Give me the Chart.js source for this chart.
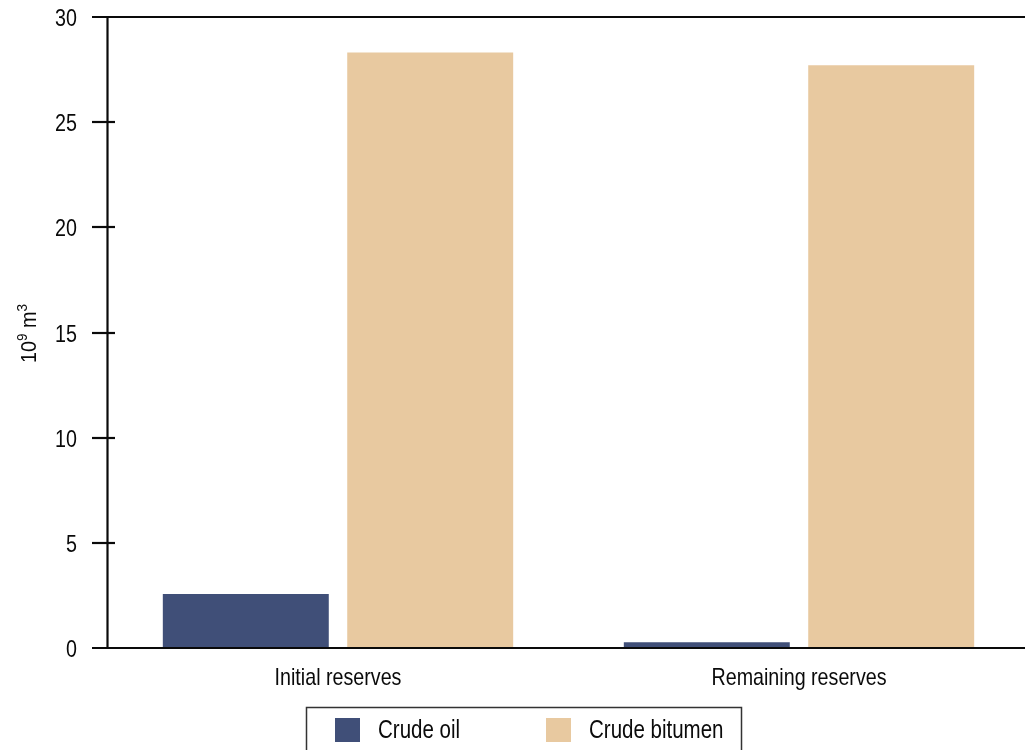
<!DOCTYPE html>
<html>
<head>
<meta charset="utf-8">
<script src="https://cdn.jsdelivr.net/npm/chart.js@4.4.1/dist/chart.umd.min.js"></script>
<style>
  html, body { margin: 0; padding: 0; background: #ffffff; overflow: hidden; }
  #wrap { position: relative; width: 1035px; height: 750px; }
</style>
</head>
<body>
<div id="wrap"><canvas id="c" width="1035" height="750"></canvas></div>
<script>
// Reserves by category, in 10^9 m3
const categories = ['Initial reserves', 'Remaining reserves'];
const crudeOil = [2.57, 0.27];
const crudeBitumen = [28.31, 27.71];
const yTickValues = [0, 5, 10, 15, 20, 25, 30];
const seriesNames = ['Crude oil', 'Crude bitumen'];
const seriesColors = ['#404f78', '#e8c9a0'];

const FONT = '"Liberation Sans", Arial, sans-serif';
const NARROW = 0.82; // horizontal condensing of all text
const INK = '#0a0a0a';

// Draws condensed text with the given alignment at (x, y)
function narrowText(ctx, text, x, y, size, align) {
  ctx.save();
  ctx.font = size + 'px ' + FONT;
  ctx.textAlign = align || 'left';
  ctx.textBaseline = 'alphabetic';
  ctx.translate(x, y);
  ctx.scale(NARROW, 1);
  ctx.fillText(text, 0, 0);
  ctx.restore();
}

// Axis frame: y axis line, crossing tick marks, full-width lines at 0 and 30
const framePlugin = {
  id: 'frame',
  afterDatasetsDraw(chart) {
    const { ctx, chartArea, scales } = chart;
    const y = scales.y;
    const axisX = chartArea.left;
    ctx.save();
    ctx.strokeStyle = INK;
    ctx.lineWidth = 2.2;
    ctx.beginPath();
    ctx.moveTo(axisX, y.getPixelForValue(30));
    ctx.lineTo(axisX, y.getPixelForValue(0));
    ctx.stroke();
    yTickValues.forEach(v => {
      const py = Math.round(y.getPixelForValue(v));
      ctx.beginPath();
      ctx.moveTo(axisX - 15.5, py);
      ctx.lineTo((v === 0 || v === 30) ? chart.width : axisX + 7.5, py);
      ctx.stroke();
    });
    ctx.restore();
  }
};

// Tick labels on both axes, placed from the library's scales
const labelsPlugin = {
  id: 'axisLabels',
  afterDraw(chart) {
    const { ctx, scales } = chart;
    ctx.save();
    ctx.fillStyle = INK;
    yTickValues.forEach(v => {
      narrowText(ctx, String(v), 77, scales.y.getPixelForValue(v) + 9, 24, 'right');
    });
    categories.forEach((c, i) => {
      narrowText(ctx, c, scales.x.getPixelForValue(i), 685, 24, 'center');
    });
    ctx.restore();
  }
};

// Rotated y-axis title with superscripts: 10^9 m^3
const yTitlePlugin = {
  id: 'yTitle',
  afterDraw(chart) {
    const { ctx, chartArea } = chart;
    const cy = (chartArea.top + chartArea.bottom) / 2;
    const parts = [
      { t: '10', size: 22, raise: 0 },
      { t: '9', size: 15, raise: 9 },
      { t: ' m', size: 22, raise: 0 },
      { t: '3', size: 15, raise: 9 }
    ];
    ctx.save();
    ctx.fillStyle = INK;
    ctx.textBaseline = 'alphabetic';
    ctx.textAlign = 'left';
    let total = 0;
    parts.forEach(p => { ctx.font = p.size + 'px ' + FONT; p.w = ctx.measureText(p.t).width; total += p.w; });
    ctx.translate(36, cy + 1);
    ctx.rotate(-Math.PI / 2);
    ctx.scale(0.9, 1);
    let x = -total / 2;
    parts.forEach(p => {
      ctx.font = p.size + 'px ' + FONT;
      ctx.fillText(p.t, x, -p.raise);
      x += p.w;
    });
    ctx.restore();
  }
};

// Boxed legend below the axis, built from the datasets
const legendBoxPlugin = {
  id: 'legendBox',
  afterDraw(chart) {
    const { ctx } = chart;
    ctx.save();
    ctx.strokeStyle = '#333';
    ctx.lineWidth = 1.5;
    ctx.strokeRect(306.5, 707.5, 435, 60);
    const items = [{ sx: 335, tx: 378 }, { sx: 546, tx: 589 }];
    chart.data.datasets.forEach((ds, i) => {
      const it = items[i];
      ctx.fillStyle = ds.backgroundColor;
      ctx.fillRect(it.sx, 718, 25, 24);
      ctx.fillStyle = INK;
      narrowText(ctx, ds.label, it.tx, 738, 25, 'left');
    });
    ctx.restore();
  }
};

new Chart(document.getElementById('c'), {
  type: 'bar',
  data: {
    labels: categories,
    datasets: [
      { label: seriesNames[0], data: crudeOil, backgroundColor: seriesColors[0] },
      { label: seriesNames[1], data: crudeBitumen, backgroundColor: seriesColors[1] }
    ]
  },
  options: {
    responsive: false,
    animation: false,
    devicePixelRatio: 1,
    layout: { padding: { top: 17, right: 5.5, bottom: 0, left: 0 } },
    datasets: { bar: { categoryPercentage: 0.8, barPercentage: 0.9 } },
    plugins: {
      legend: { display: false },
      tooltip: { enabled: false },
      title: { display: false }
    },
    scales: {
      x: {
        grid: { display: false },
        border: { display: false },
        ticks: { display: false },
        afterFit(scale) { scale.height = 102; }
      },
      y: {
        min: 0,
        max: 30,
        grid: { display: false },
        border: { display: false },
        ticks: { display: false, stepSize: 5 },
        afterFit(scale) { scale.width = 107.5; }
      }
    }
  },
  plugins: [framePlugin, labelsPlugin, yTitlePlugin, legendBoxPlugin]
});
</script>
</body>
</html>
